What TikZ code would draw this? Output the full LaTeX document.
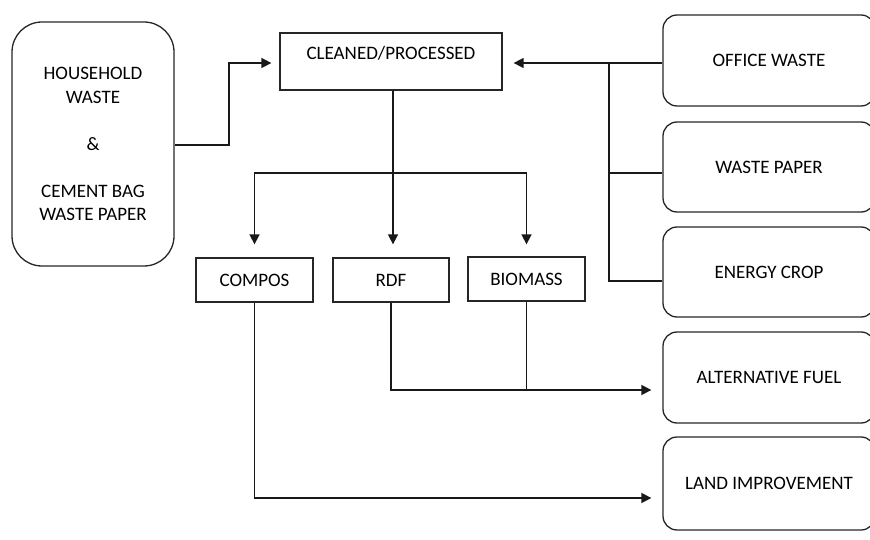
\documentclass[tikz,border=0pt]{standalone}
\usepackage{fontspec}
\setmainfont{Carlito}
\usetikzlibrary{arrows.meta}
\begin{document}
\begin{tikzpicture}[x=1pt,y=-1pt,
  every node/.style={font=\fontsize{19}{23.5}\selectfont, text=black},
  sqbox/.style={draw=black!85, line width=1.3pt, inner sep=0pt},
  rbox/.style={draw=black!85, line width=1.3pt, rounded corners=14pt, inner sep=0pt},
  conn/.style={draw=black!90, line width=1.6pt},
  arr/.style={conn, -{Triangle[length=10pt,width=10pt]}}]
\useasboundingbox (0,0) rectangle (870,540);
\clip (0,0) rectangle (870,540);
% boxes
\node[rbox, rounded corners=30pt, minimum width=162pt, minimum height=244pt, align=center] (hh) at (93,144)
  {HOUSEHOLD\\WASTE\\[23.5pt]\&\\[23.5pt]CEMENT BAG\\WASTE PAPER};
\node[sqbox, minimum width=222pt, minimum height=57pt] (cl) at (391,61.5)
  {\raisebox{8.5pt}[\height][\depth]{CLEANED/PROCESSED}};
\node[sqbox, minimum width=117pt, minimum height=44pt] (co) at (254.5,280) {COMPOS};
\node[sqbox, minimum width=116pt, minimum height=44pt] (rdf) at (391,280) {RDF};
\node[sqbox, minimum width=117pt, minimum height=44pt] (bi) at (526.5,279) {BIOMASS};
\node[rbox, minimum width=212pt, minimum height=91pt] (ow) at (769,60.5) {OFFICE WASTE};
\node[rbox, minimum width=212pt, minimum height=90pt] (wp) at (769,167) {WASTE PAPER};
\node[rbox, minimum width=212pt, minimum height=90pt] (ec) at (769,272) {ENERGY CROP};
\node[rbox, minimum width=212pt, minimum height=91pt] (af) at (769,377.5) {ALTERNATIVE FUEL};
\node[rbox, minimum width=212pt, minimum height=93pt] (li) at (769,483.5) {LAND IMPROVEMENT};
% connector coordinates
\coordinate (hhout) at ([yshift=-1pt]hh.east);
\coordinate (owout) at ([yshift=-2.5pt]ow.west);
\coordinate (wpout) at ([yshift=-6pt]wp.west);
\coordinate (ecout) at ([yshift=-9pt]ec.west);
\coordinate (jn) at (609,0);
\coordinate (split) at (393,173);
\coordinate (afin) at ([yshift=-12.5pt]af.west);
\coordinate (liin) at ([yshift=-14.5pt]li.west);
% connectors
\draw[arr, shorten >=8pt] (hhout) -- (229,0 |- hhout) |- ([yshift=-1.5pt]cl.west);
\draw[arr, shorten >=11pt] (owout) -- ([yshift=-1.5pt]cl.east);
\draw[conn] (jn |- owout) -- (jn |- ecout) -- (ecout);
\draw[conn] (jn |- wpout) -- (wpout);
\draw[arr, shorten >=13pt] (cl.south -| split) -- (split |- rdf.north);
\draw[arr, shorten >=13pt] (split) -| (co.north);
\draw[arr, shorten >=12pt] (split) -| (bi.north);
\draw[arr, shorten >=11pt] (rdf.south) |- (afin);
\draw[conn] (bi.south) -- (bi.south |- afin);
\draw[arr, shorten >=11pt] (co.south) |- (liin);
\end{tikzpicture}
\end{document}
